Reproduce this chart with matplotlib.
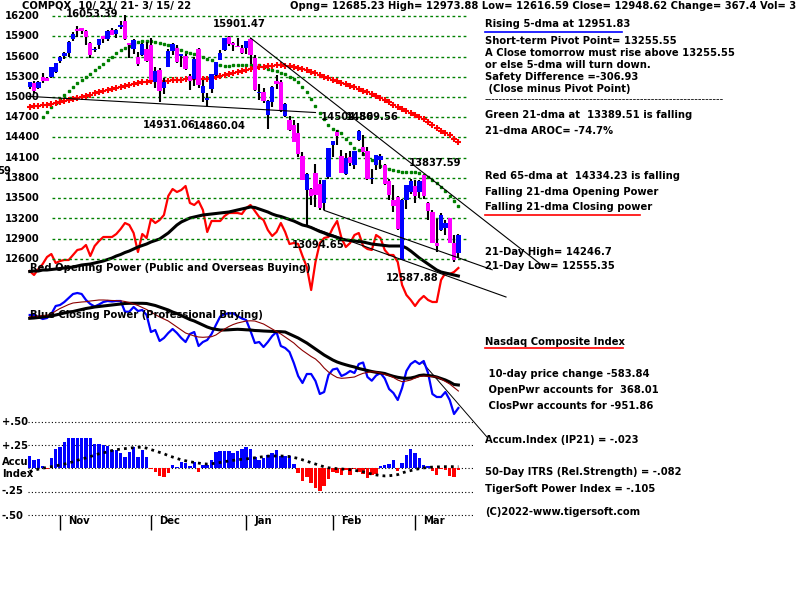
import matplotlib
matplotlib.use('Agg')
import matplotlib.pyplot as plt
from matplotlib.lines import Line2D
import numpy as np

# ---------------- data ----------------
opens = [15143, 15211, 15134, 15296, 15277, 15292, 15376,
         15534, 15608, 15652, 15860, 16011, 16016, 15978, 15804, 15689, 15763, 15903, 15854, 15993, 15937, 16044,
         16124, 15788, 15718, 15598, 15617, 15712,
         15763, 15226, 15406, 15134, 15448, 15687, 15730, 15612, 15603, 15310, 15264, 15713, 15059, 14961, 15123,
         15319, 15548, 15697, 15895, 15795, 15758, 15727,
         15732, 15857, 15584, 15054, 15078, 14740, 14927, 15244, 15215, 14721, 14657, 14590, 14462, 14122, 13617,
         13638, 13871, 13710, 13436, 13812,
         14291, 14480, 14119, 13857, 14117, 13987, 14368, 14254, 14203, 13782, 13990, 14073, 13988, 13755, 13476,
         13525, 12588, 13473, 13587,
         13677, 13595, 13837.59, 13430, 13289, 12830, 13028, 13066, 13202, 12841, 12685.23]
highs = [15223, 15238, 15232, 15356, 15302, 15450, 15504,
         15611, 15669, 15829, 15966, 16053.39, 16018, 15997, 15822, 15742, 15863, 15905, 15996, 16017, 16012, 16122,
         16212, 15804, 15852, 15663, 15796, 15813,
         15871, 15442, 15424, 15283, 15708, 15802, 15764, 15639, 15630, 15344, 15590, 15724, 15255, 15052, 15346,
         15523, 15697, 15871, 15901.47, 15821, 15868, 15770,
         15833, 15875, 15622, 15197, 15140, 14949, 15158, 15319, 15256, 14905, 14722, 14654, 14617, 14178, 13877,
         13652, 14002, 13765, 13771, 14242,
         14351, 14504.86, 14221, 14170, 14197, 14203, 14509.56, 14437, 14265, 13930, 14139, 14159, 14009, 13779,
         13691, 13532, 13483, 13699, 13789,
         13765, 13764, 13837.59, 13449, 13320, 13189, 13282, 13183, 13210, 12953, 12973.88]
lows = [15114, 15057, 15114, 15214, 15230, 15286, 15362,
        15497, 15568, 15597, 15834, 15891, 15935, 15767, 15585, 15663, 15718, 15797, 15837, 15917, 15876, 16011,
        15839, 15572, 15633, 15462, 15603, 15516,
        15248, 15136, 14931.06, 15041, 15447, 15617, 15507, 15449, 15398, 15098, 15169, 15127, 14926, 14860.04,
        15063, 15318, 15546, 15684, 15757, 15679, 15735, 15644,
        15644, 15493, 15096, 14949, 14905, 14530, 14850, 15125, 14781, 14704, 14497, 14335, 14118, 13765, 13094.65,
        13397, 13367, 13322, 13320, 13782,
        14117, 14292, 13870, 13838, 13980, 13936, 14354, 14120, 13774, 13706, 13924, 13931, 13702, 13479, 13289,
        13033, 12587.88, 13339, 13557,
        13430, 13505, 13491, 13175, 12830, 12708, 13010, 12952, 12836, 12555.35, 12616.59]
closes = [15215.70, 15090.20, 15226.71, 15235.84, 15235.71, 15448.12, 15498.39,
          15595.92, 15649.60, 15811.58, 15940.31, 15971.59, 15982.36, 15886.54, 15622.71, 15704.28, 15860.96,
          15853.85, 15973.86, 15921.57, 15993.71, 16057.44, 15854.76, 15775.14, 15845.23, 15491.66, 15782.83,
          15537.69,
          15254.05, 15381.32, 15085.47, 15225.15, 15686.92, 15786.99, 15517.37, 15630.60, 15413.28, 15237.64,
          15565.58, 15180.43, 15169.68, 14980.94, 15341.09, 15521.89, 15653.37, 15871.26, 15781.72, 15766.22,
          15741.56, 15644.97,
          15832.80, 15622.72, 15100.17, 15080.86, 14935.90, 14942.83, 15153.45, 15188.39, 14806.81, 14893.75,
          14506.90, 14340.26, 14154.02, 13768.92, 13855.13, 13539.29, 13542.12, 13352.78, 13770.57, 14239.88,
          14346.00, 14417.55, 13878.82, 14098.01, 14015.67, 14194.46, 14490.37, 14185.64, 13791.15, 13790.92,
          14139.76, 14124.09, 13716.72, 13548.07, 13381.52, 13037.49, 13473.59, 13694.62, 13751.40,
          13532.46, 13752.02, 13537.94, 13313.44, 12830.96, 12795.55, 13255.55, 13129.96, 12843.81, 12581.22,
          12948.62]

ma21 = [None, None, None, 14700, 14780, 14850, 14910, 14975, 15035, 15095,
        15150, 15205, 15255, 15300, 15345, 15395, 15445, 15495, 15545, 15600,
        15645, 15690, 15730, 15760, 15790, 15815, 15828, 15830, 15825, 15815,
        15800, 15785, 15765, 15740, 15715, 15690, 15670, 15650, 15630, 15610,
        15590, 15570, 15550, 15480, 15470, 15465, 15465, 15470, 15475, 15480,
        15480, 15478, 15475, 15470, 15440, 15420, 15400, 15380, 15360, 15340,
        15300, 15260, 15220, 15150, 15080, 14970, 14860, 14760, 14680, 14590,
        14520, 14490, 14460, 14380, 14320, 14250, 14210, 14160, 14110, 14060,
        14020, 13980, 13950, 13935, 13920, 13905, 13895, 13893, 13893, 13885,
        13875, 13850, 13820, 13770, 13720, 13660, 13600, 13530, 13460, 13389.51]
ma65 = [14856, 14862, 14868, 14875, 14881, 14895, 14910, 14925, 14940, 14955,
        14970, 14985, 15000, 15019, 15037, 15055, 15073, 15090, 15105, 15120,
        15133, 15146, 15160, 15175, 15190, 15205, 15215, 15225, 15232, 15237,
        15240, 15240, 15242, 15246, 15250, 15255, 15260, 15264, 15266, 15264,
        15262, 15270, 15285, 15298, 15312, 15330, 15345, 15360, 15375, 15390,
        15402, 15415, 15428, 15440, 15450, 15455, 15465, 15470, 15472, 15465,
        15457, 15448, 15435, 15418, 15397, 15375, 15355, 15330, 15300, 15278,
        15255, 15233, 15212, 15190, 15167, 15144, 15120, 15095, 15070, 15045,
        15015, 14990, 14960, 14920, 14880, 14850, 14820, 14792, 14765, 14735,
        14700, 14670, 14625, 14585, 14545, 14500, 14470, 14430, 14385, 14334.23]

open_power = [29, 25, 31, 36, 43, 46, 37, 39, 40, 40,
              45, 50, 51, 55, 44, 54, 59, 63, 63, 63,
              66, 71, 77, 75, 67, 48, 66, 62, 81, 77,
              80, 85, 104, 111, 108, 110, 114, 97, 95, 99,
              90, 68, 79, 79, 79, 84, 87, 87, 87, 86,
              92, 95, 89, 83, 80, 70, 64, 68, 77, 68,
              56, 57, 56, 44, 33, 10, 38, 57, 62, 63,
              72, 79, 62, 53, 57, 65, 67, 54, 51, 50,
              65, 62, 50, 45, 45, 38, 15, 5, 0, -6,
              0, 4, 0, -2, -2, 20, 27, 26, 28, 32]
open_power_ma = [28.5, 29, 29, 30, 30, 30.5, 31, 31.5, 32, 32.5,
                 33, 34, 35, 35.5, 36, 37, 38, 39, 40.5, 42,
                 44, 45.5, 47.5, 49, 51, 53, 54.5, 56, 58, 59.5,
                 61, 64, 67, 71, 75, 78, 80, 82, 83, 84,
                 85, 85.5, 86, 86.5, 87, 87.5, 88, 89, 90, 91,
                 92, 93, 92.5, 91, 89.5, 88, 86, 84.5, 83.5, 82,
                 80.5, 79, 77, 75, 74, 72.5, 70.5, 68.5, 67, 65,
                 64, 62.5, 61, 60, 59.5, 59, 58.5, 58, 57, 56,
                 55.5, 55, 54.5, 54, 54, 54, 54, 52, 49, 45.5,
                 42, 39, 36, 33, 30, 28, 27, 26, 25, 24]
close_power = [125, 125, 123, 121, 122, 126, 134, 135, 138, 142,
               146, 147, 146, 140, 136, 133.5, 135.5, 138, 139, 138.5,
               139, 139, 128.3, 128.3, 133, 129, 130, 125, 108, 110,
               99, 102, 107, 111, 107, 102, 98, 106, 108, 94,
               98, 100, 106, 115, 123.5, 126, 126.7, 126.7, 124, 121.5,
               120, 109, 97, 98, 93, 98, 104, 108, 94, 92,
               88, 77, 64, 57, 66, 66, 59, 46, 48, 65,
               70.5, 71.5, 64, 66, 69, 67, 76, 77.5, 63, 59.3,
               64.5, 67, 61.5, 51, 47, 40, 52, 69, 76, 79,
               76, 79, 67, 46, 43, 43, 48, 40, 26, 32]
close_power_ma = [121.7, 122, 122.5, 123, 123.5, 124, 125, 126, 127, 128,
                  128.5, 129.5, 130.5, 131.5, 132.2, 133, 133.5, 134, 134.5, 135,
                  135.5, 136, 136.5, 136.7, 136.7, 136.7, 136.7, 136.5, 135.5, 134.5,
                  133, 131.5, 130, 128, 126.5, 124.5, 122.5, 120.5, 119, 117,
                  115, 113, 111.5, 110.7, 110, 110, 110.2, 110.5, 110.7, 110.5,
                  110.2, 110, 109.5, 109.3, 109, 108.8, 108.6, 108.4, 108.3, 108,
                  106, 104, 102, 99.5, 97, 94, 91, 88, 85, 82.5,
                  80, 78, 76.5, 75.2, 74, 73, 71.5, 70.5, 69.5, 68.5,
                  67.7, 67.2, 66.5, 65, 63.7, 62.7, 62, 61.7, 62, 63,
                  64.5, 65, 64.5, 64, 63, 61.5, 60, 58, 55.5, 55]
close_power_ma2 = [123.3, 123.5, 124, 124.5, 124.8, 126, 129, 131.5, 133.5, 135.5,
                   137, 137.5, 138, 138.3, 139, 139.5, 140, 140, 139.8, 139.5,
                   139.4, 139.2, 138.5, 137.5, 136, 134.5, 132.5, 130.5, 128, 125.5,
                   123, 121, 119, 116, 113, 110, 107, 105.5, 104, 103,
                   102.7, 103, 103.3, 105, 108, 111, 113.5, 115.5, 117, 118,
                   119, 119.2, 119, 117.5, 116, 113.5, 111, 108.5, 106, 103,
                   100, 97, 93, 89.5, 86.5, 83.5, 81, 77, 72, 68,
                   65, 62.5, 61.7, 62, 62.5, 63, 65, 66.7, 67.5, 68.3,
                   68, 67, 65.5, 64.5, 62.5, 60, 58.3, 59, 60, 62,
                   63.5, 64, 63.7, 63.3, 63, 61, 58.5, 56, 52.5, 49]
accum = [0.13, 0.09, 0.10, 0.025, -0.01, 0.105, 0.21, 0.225, 0.285, 0.32,
         0.32, 0.32, 0.32, 0.32, 0.32, 0.26, 0.255, 0.25, 0.24, 0.196,
         0.196, 0.16, 0.118, 0.178, 0.23, 0.118, 0.19, 0.118, -0.01, -0.035,
         -0.08, -0.09, -0.05, 0.03, 0.01, 0.07, 0.06, 0.02, 0.07, -0.04,
         0.03, 0.03, 0.09, 0.17, 0.185, 0.185, 0.185, 0.16, 0.18, 0.21,
         0.225, 0.21, 0.125, 0.09, 0.107, 0.143, 0.16, 0.19, 0.13, 0.13,
         0.13, 0.05, -0.05, -0.14, -0.09, -0.16, -0.21, -0.24, -0.195, -0.12,
         -0.04, -0.05, -0.07, -0.02, -0.07, -0.01, -0.04, -0.06, -0.1, -0.07,
         -0.06, 0.02, 0.03, 0.05, 0.085, -0.03, 0.06, 0.14, 0.21, 0.16,
         0.107, 0.04, 0.02, -0.03, -0.07, -0.01, -0.02, -0.08, -0.09, -0.023]
accum_ma = [-0.035, -0.02, -0.01, 0.0, 0.01, 0.017, 0.025, 0.035, 0.045, 0.055,
            0.07, 0.085, 0.1, 0.11, 0.125, 0.14, 0.155, 0.165, 0.175, 0.19,
            0.198, 0.205, 0.21, 0.215, 0.22, 0.224, 0.225, 0.215, 0.2, 0.185,
            0.17, 0.155, 0.135, 0.12, 0.105, 0.09, 0.08, 0.07, 0.062, 0.055,
            0.048, 0.045, 0.048, 0.055, 0.062, 0.07, 0.078, 0.085, 0.09, 0.096,
            0.1, 0.106, 0.112, 0.118, 0.124, 0.13, 0.131, 0.131, 0.131, 0.129,
            0.125, 0.115, 0.105, 0.09, 0.075, 0.06, 0.045, 0.03, 0.015, 0.005,
            0.0, -0.005, -0.008, -0.011, -0.015, -0.022, -0.03, -0.038, -0.05, -0.062,
            -0.071, -0.078, -0.082, -0.08, -0.075, -0.068, -0.05, -0.036, -0.025, -0.012,
            -0.005, 0.003, 0.01, 0.012, 0.014, 0.016, 0.017, 0.017, 0.017, 0.017]

# trend lines: (day, value) end points
support_line = [(-0.4, 15010), (66, 14770)]
down_trend = [(51, 15875), (118.3, 12507)]
low_line_a = [(68, 13320), (106.8, 12441)]
low_line_b = [(64, 13094.65), (110, 12037)]
cp_trend = [(90.6, 78), (105.6, 3)]

price_levels = [16200, 15900, 15600, 15300, 15000, 14700, 14400, 14100, 13800, 13500, 13200, 12900, 12600]
price_labels = ['16200', '15900', '15600', '15300', '15000', '14700', '14400', '14100', '13800', '13500',
                '13200', '12900', '12600']
accum_levels = [0.5, 0.25, 0.0, -0.25, -0.5]
month_days = [7, 28, 50, 70, 89]
month_names = ['Nov', 'Dec', 'Jan', 'Feb', 'Mar']

# ---------------- layout ----------------
W, H = 800, 600
X0, DX = 29.7, 4.33          # pixel of day 0, pixels per day
PY0, PSC = 16.0, 0.0675      # pixel of 16200, pixels per point
XLIM = ((0 - X0) / DX, (W - X0) / DX)

def dpx(px):
    return (px - X0) / DX

FONT = 'DejaVu Sans'
FS = 7.2

fig = plt.figure(figsize=(8, 6), dpi=100)
fig.patch.set_facecolor('white')

def mkax(ylim, name):
    a = fig.add_axes([0, 0, 1, 1], label=name)
    a.set_xlim(XLIM)
    a.set_ylim(ylim)
    a.axis('off')
    a.patch.set_visible(False)
    return a

ax_acc = mkax((-(H - 468.25) / 93.5, 468.25 / 93.5), 'acc')
ax_cp = mkax((440 - H, 440), 'cp')
ax_op = mkax((300 - H, 300), 'op')
ax = mkax((16200 - (H - PY0) / PSC, 16200 + PY0 / PSC), 'price')

days = np.arange(len(closes))
o = np.array(opens); c = np.array(closes); h = np.array(highs); l = np.array(lows)

# price grid
ax.hlines(price_levels, dpx(52), dpx(468), colors='#008000', linestyles=(0, (2, 2)), lw=1.0, zorder=1)

# moving averages
m21 = np.array([np.nan if v is None else v for v in ma21], dtype=float)
ax.plot(days, m21, ls='none', marker='s', ms=1.9, color='#008000', zorder=2)
ax.plot(days, ma65, ls='none', marker='+', ms=4.2, mew=1.5, color='#ff0000', zorder=2)

# candles
ax.vlines(days, l, h, colors='black', lw=1.5, zorder=3)
up = c >= o
bh = np.maximum(np.abs(c - o), 18)
ax.bar(days, bh, bottom=np.minimum(o, c), width=1.0,
       color=np.where(up, '#0000ff', '#ff00ff'), linewidth=0, zorder=4)

# trend lines
for seg in (support_line, down_trend, low_line_a, low_line_b):
    ax.plot([seg[0][0], seg[1][0]], [seg[0][1], seg[1][1]], color='black', lw=0.8, zorder=5)

# opening power
ax_op.plot(days, open_power, color='#ff0000', lw=1.6, zorder=3)
ax_op.plot(days, open_power_ma, color='black', lw=2.2, zorder=4)

# closing power
ax_cp.plot(days, close_power, color='#0000ff', lw=1.6, zorder=3)
ax_cp.plot(days, close_power_ma, color='black', lw=2.2, zorder=4)
ax_cp.plot(days, close_power_ma2, color='#8b0000', lw=0.8, zorder=5)
ax_cp.plot([cp_trend[0][0], cp_trend[1][0]], [cp_trend[0][1], cp_trend[1][1]], color='black', lw=0.7)

# accumulation index
acc = np.array(accum)
ax_acc.hlines(accum_levels, dpx(28), dpx(473), colors='black', linestyles=(0, (1, 2)), lw=0.8, zorder=1)
ax_acc.bar(days, acc, width=0.8, color=np.where(acc >= 0, '#0000ff', '#ff0000'), linewidth=0, zorder=2)
ax_acc.plot(days, accum_ma, color='black', ls=(0, (1, 1.5)), lw=2.0, zorder=3)
# month ticks
ax_acc.vlines(month_days, -0.5, -0.5 - 15 / 93.5, colors='black', lw=1.0)
for d, m in zip(month_days, month_names):
    ax_acc.text(d + 8 / DX, -0.5 - 6 / 93.5, m, fontsize=FS, fontweight='bold', family=FONT,
                va='center', ha='left')

# ---------------- texts ----------------
def T(s, x, y, color='black', weight='bold', size=FS, ha='left'):
    fig.text(x / W, 1 - y / H, s, fontsize=size, fontweight=weight, family=FONT,
             color=color, va='center', ha=ha)

for lab, lev in zip(price_labels, price_levels):
    yp = PY0 + (16200 - lev) * PSC
    T(lab, 5, yp)
T('59', -3, 171)

T('COMPQX  10/ 21/ 21- 3/ 15/ 22', 22, 6)
T('Opng= 12685.23 High= 12973.88 Low= 12616.59 Close= 12948.62 Change= 367.4 Vol= 3', 290, 6)

for s, x, y in [('16053.39', 66, 14), ('15901.47', 213, 24), ('14931.06', 143, 125),
                ('14860.04', 193, 126), ('14504.86', 321, 117), ('14509.56', 346, 117),
                ('13837.59', 409, 163), ('13094.65', 292, 245), ('12587.88', 386, 278)]:
    T(s, x, y)

T('Red Opening Power (Public and Overseas Buying)', 30, 268)
T('Blue Closing Power (Professional Buying)', 30, 315)

for s, y in [('+.50', 422), ('+.25', 446), ('Accu', 462), ('Index', 474), ('-.25', 491), ('-.50', 516)]:
    T(s, 2, y)

right = [('Rising 5-dma at 12951.83', 24), ('Short-term Pivot Point= 13255.55', 40.7),
         ('A Close tomorrow must rise above 13255.55', 52.7), ('or else 5-dma will turn down.', 65),
         ('Safety Difference =-306.93', 77.3), (' (Close minus Pivot Point)', 89.3),
         ('Green 21-dma at  13389.51 is falling', 115), ('21-dma AROC= -74.7%', 130.7),
         ('Red 65-dma at  14334.23 is falling', 176), ('Falling 21-dma Opening Power', 192),
         ('Falling 21-dma Closing power', 207), ('21-Day High= 14246.7', 251.7),
         ('21-Day Low= 12555.35', 265.7), ('Nasdaq Composite Index', 342.3),
         (' 10-day price change -583.84', 374), (' OpenPwr accounts for  368.01', 390),
         (' ClosPwr accounts for -951.86', 406), ('Accum.Index (IP21) = -.023', 440.3),
         ('50-Day ITRS (Rel.Strength) = -.082', 471.7), ('TigerSoft Power Index = -.105', 489.3),
         ('(C)2022-www.tigersoft.com', 511.7)]
for s, y in right:
    T(s, 485, y)
T('-' * 66, 485, 99.5, weight='normal')

def uline(x0, x1, y, color):
    fig.add_artist(Line2D([x0 / W, x1 / W], [1 - y / H, 1 - y / H], color=color, lw=1.2))

uline(485, 622, 32, '#0000ff')
uline(485, 640, 215.3, '#ff0000')
uline(485, 623, 348.3, '#ff0000')

fig.savefig('out.png', dpi=100, facecolor='white')
